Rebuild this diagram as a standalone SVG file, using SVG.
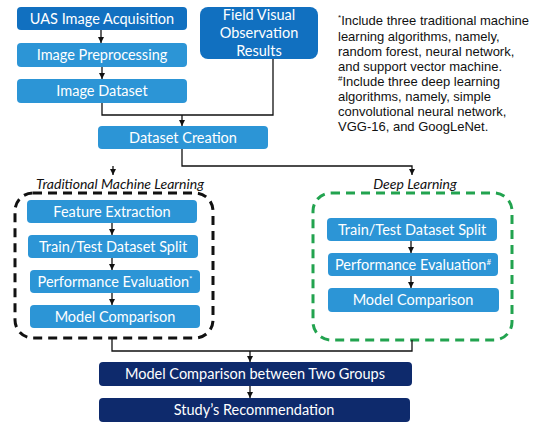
<svg xmlns="http://www.w3.org/2000/svg" width="550" height="430" viewBox="0 0 550 430">
<style>
.dk rect{fill:#1170c0}
.lt rect{fill:#2c95d6}
.nv rect{fill:#0e2a6c}
.bx text{fill:#fff;font-family:Lato,"Liberation Sans",sans-serif;font-size:14.5px;text-anchor:middle}
.ln{fill:none;stroke:#111;stroke-width:1.3}
.note{font-family:"Liberation Sans",Arial,sans-serif;font-size:13px;fill:#111}
.hd{font-family:Lato,"Liberation Sans",sans-serif;font-size:14px;font-style:italic;fill:#111;text-anchor:middle}
.sup{font-size:8px}
</style>
<defs>
<marker id="ah" viewBox="0 0 6 6" refX="6" refY="3" markerWidth="6" markerHeight="6" markerUnits="userSpaceOnUse" orient="auto">
<path d="M0,0 L6,3 L0,6 z" fill="#111"/>
</marker>
</defs>
<rect width="550" height="430" fill="#fff"/>

<g id="groups">
<rect x="15" y="193" width="198" height="145" rx="18" fill="none" stroke="#111" stroke-width="3" stroke-dasharray="9,6"/>
<rect x="313" y="193" width="199" height="147" rx="18" fill="none" stroke="#22a34f" stroke-width="3" stroke-dasharray="9,6"/>
<text class="hd" x="120" y="189">Traditional Machine Learning</text>
<text class="hd" x="415" y="189">Deep Learning</text>
</g>

<g id="connectors">
<path class="ln" d="M101,30 V43" marker-end="url(#ah)"/>
<path class="ln" d="M102,67 V79" marker-end="url(#ah)"/>
<path class="ln" d="M102,103 V115 H273 V59"/>
<path class="ln" d="M182,115 V126" marker-end="url(#ah)"/>
<path class="ln" d="M182,149 V166 H412 V175" marker-end="url(#ah)"/>
<path class="ln" d="M113,166 V175" marker-end="url(#ah)"/>
<path class="ln" d="M112,223 V235" marker-end="url(#ah)"/>
<path class="ln" d="M112,258 V270" marker-end="url(#ah)"/>
<path class="ln" d="M112,293 V305" marker-end="url(#ah)"/>
<path class="ln" d="M411,241 V253" marker-end="url(#ah)"/>
<path class="ln" d="M411,276 V288" marker-end="url(#ah)"/>
<path class="ln" d="M112,338 V351 H412 V340"/>
<path class="ln" d="M250,351 V362" marker-end="url(#ah)"/>
<path class="ln" d="M250,386 V398" marker-end="url(#ah)"/>
</g>

<g id="uas" class="bx dk"><rect x="17" y="7" width="170" height="23" rx="4"/><text x="102" y="23.5">UAS Image Acquisition</text></g>
<g id="field" class="bx dk"><rect x="200" y="7" width="118" height="52" rx="8"/><text x="259" y="20">Field Visual</text><text x="259" y="38">Observation</text><text x="259" y="56">Results</text></g>
<g id="preproc" class="bx lt"><rect x="17" y="43" width="170" height="24" rx="4"/><text x="102" y="60">Image Preprocessing</text></g>
<g id="imgds" class="bx lt"><rect x="17" y="79" width="170" height="24" rx="4"/><text x="102" y="96">Image Dataset</text></g>
<g id="dscreate" class="bx lt"><rect x="98" y="126" width="170" height="23" rx="4"/><text x="183" y="142.5">Dataset Creation</text></g>

<g id="feat" class="bx lt"><rect x="27" y="200" width="170" height="23" rx="4"/><text x="112" y="216.5">Feature Extraction</text></g>
<g id="split1" class="bx lt"><rect x="28" y="235" width="170" height="23" rx="4"/><text x="113" y="251.5">Train/Test Dataset Split</text></g>
<g id="perf1" class="bx lt"><rect x="30" y="270" width="170" height="23" rx="4"/><text x="115" y="286.5">Performance Evaluation<tspan class="sup" dy="-5">*</tspan></text></g>
<g id="mc1" class="bx lt"><rect x="30" y="305" width="170" height="23" rx="4"/><text x="115" y="321.5">Model Comparison</text></g>

<g id="split2" class="bx lt"><rect x="327" y="218" width="170" height="23" rx="4"/><text x="412" y="234.5">Train/Test Dataset Split</text></g>
<g id="perf2" class="bx lt"><rect x="328" y="253" width="170" height="23" rx="4"/><text x="413" y="269.5">Performance Evaluation<tspan class="sup" dy="-5">#</tspan></text></g>
<g id="mc2" class="bx lt"><rect x="328" y="288" width="171" height="24" rx="4"/><text x="413" y="305">Model Comparison</text></g>

<g id="mcgroups" class="bx nv"><rect x="99" y="362" width="313" height="24" rx="4"/><text x="255" y="379">Model Comparison between Two Groups</text></g>
<g id="rec" class="bx nv"><rect x="99" y="398" width="311" height="24" rx="4"/><text x="254" y="415">Study’s Recommendation</text></g>

<g id="notes">
<text class="note" x="338" y="25"><tspan class="sup" dy="-5">*</tspan><tspan dy="5">Include three traditional machine</tspan></text>
<text class="note" x="338" y="40.5">learning algorithms, namely,</text>
<text class="note" x="338" y="56">random forest, neural network,</text>
<text class="note" x="338" y="71">and support vector machine.</text>
<text class="note" x="338" y="85.5"><tspan class="sup" dy="-5">#</tspan><tspan dy="5">Include three deep learning</tspan></text>
<text class="note" x="338" y="100.5">algorithms, namely, simple</text>
<text class="note" x="338" y="115.5">convolutional neural network,</text>
<text class="note" x="338" y="130.5">VGG-16, and GoogLeNet.</text>
</g>
</svg>
